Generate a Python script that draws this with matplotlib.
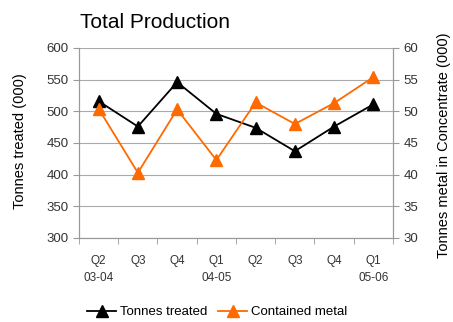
import matplotlib.pyplot as plt
import numpy as np

plt.rcParams['font.family'] = ['Liberation Sans Narrow', 'Liberation Sans', 'DejaVu Sans']

quarters = ["Q2\n03-04", "Q3", "Q4", "Q1\n04-05", "Q2", "Q3", "Q4", "Q1\n05-06"]
tonnes_treated = [516, 476, 546, 496, 474, 437, 476, 511]
contained_metal = [50.4, 40.3, 50.3, 42.3, 51.4, 48.0, 51.3, 55.4]

fig = plt.figure(figsize=(4.53, 3.22), dpi=100)
ax = fig.add_axes([0.1744, 0.2609, 0.6931, 0.5901])
ax2 = ax.twinx()

x = np.arange(len(quarters))
l1, = ax.plot(x, tonnes_treated, color="black", marker="^", markersize=8, lw=1.3, label="Tonnes treated")
l2, = ax2.plot(x, contained_metal, color="#ff6a00", marker="^", markersize=8, lw=1.3, label="Contained metal")

ax.set_xlim(-0.5, len(quarters) - 0.5)
ax.set_ylim(300, 600)
ax2.set_ylim(30, 60)
ax.set_yticks(range(300, 601, 50))
ax2.set_yticks(range(30, 61, 5))
ax.set_xticks(x)
ax.set_xticklabels(quarters, fontsize=8.5, color="#333333", linespacing=1.6)
ax.set_xticks(np.arange(-0.5, len(quarters), 1), minor=True)
ax.tick_params(axis="x", which="major", length=0, pad=12)
ax.tick_params(axis="x", which="minor", length=4, color="#999999", direction="out")
ax.tick_params(axis="y", labelsize=9.5, length=4, color="#999999", labelcolor="#333333")
ax2.tick_params(axis="y", labelsize=9.5, length=4, color="#999999", labelcolor="#333333")

ax.grid(axis="y", color="#aaaaaa", lw=0.8)
ax.set_axisbelow(True)
for a in (ax, ax2):
    for s in a.spines.values():
        s.set_color("#999999")
    a.spines["top"].set_visible(False)

ax.set_ylabel("Tonnes treated (000)", fontsize=10.5)
ax2.set_ylabel("Tonnes metal in Concentrate (000)", fontsize=10.5)
ax.yaxis.set_label_coords(-0.165, 0.51)
ax2.yaxis.set_label_coords(1.14, 0.49)

fig.text(0.177, 0.93, "Total Production", fontsize=15, ha="left", va="center")

fig.legend(handles=[l1, l2], loc="center", bbox_to_anchor=(0.48, 0.03), ncol=2,
           frameon=False, fontsize=9.5, handlelength=2.2, columnspacing=0.8, handletextpad=0.3,
           borderpad=0.1)

fig.savefig("out.png", dpi=100)
